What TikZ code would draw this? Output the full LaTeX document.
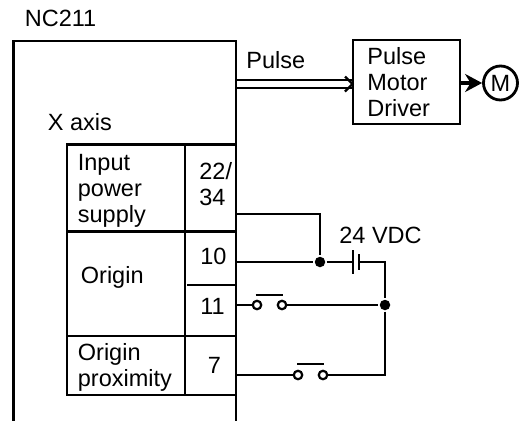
\documentclass[tikz,border=0pt]{standalone}
\usepackage{fontspec}
\setmainfont{Liberation Sans}
\usetikzlibrary{arrows.meta,positioning,calc}
\tikzset{
  >=Stealth,
  every picture/.append style={line width=2.8pt},
  every node/.append style={font=\fontsize{23.5}{26}\selectfont},
  label/.style={anchor=west, inner sep=0pt, align=left},
  drivebox/.style={draw, minimum width=107pt, minimum height=84pt, inner sep=0pt},
  motor/.style={draw, circle, minimum size=34pt, inner sep=0pt},
  contact/.style={draw, circle, fill=white, minimum size=8.5pt, inner sep=0pt, line width=2.2pt},
  junction/.style={circle, fill=black, minimum size=10.5pt, inner sep=0pt},
  wire/.style={line width=2.4pt}
}

\begin{document}
\begin{tikzpicture}[x=1pt,y=-1pt]
\useasboundingbox (0,0) rectangle (523,421);

% NC211 unit, open at the bottom
\draw (13.5,421) |- (236,41) -- (236,421);
\node[label] (nctitle) at (23.5,18) {NC211};
\node[label] (xaxis) at (46.5,122) {X axis};

% Terminal table
\draw (67,144.5) rectangle (236,395);
\draw (185,144.5) -- (185,395);
\draw (67,231.5) -- (236,231.5);
\draw (67,336) -- (236,336);
\draw (187,285) -- (236,285);
\node[label] (inputlbl) at (76.5,191) {Input\\power\\supply};
\node[label] (originlbl) at (79.5,277) {Origin};
\node[label] (proxlbl) at (76.5,367) {Origin\\proximity};
\node[label] (pinA) at (198,184) {22/\\34};
\node[label] (pinB) at (199,256) {10};
\node[label] (pinC) at (199,306) {11};
\node[label] (pinD) at (206.5,365) {7};

% Pulse output
\node[label] (pulselbl) at (245,60) {Pulse};
\node[drivebox] (driver) at (406.5,82) {};
\node[label] (driverlbl) at (366,82) {Pulse\\Motor\\Driver};
\node[motor] (motorM) at (500.5,83) {M};
\coordinate (outA) at (236,80);
\coordinate (outB) at (236,88);
\draw[wire] (outA) -- (outA -| driver.west);
\draw[wire] (outB) -- (outB -| driver.west);
\draw[wire] (345,76.5) -- (352.5,84) -- (345,91.5);
\draw[line width=3.6pt,-{Stealth[length=17pt,width=18pt]}] (driver.east |- motorM) -- (motorM.west);

% Field wiring
\coordinate (termA) at (236,214);
\coordinate (termB) at (236,262);
\coordinate (termC) at (236,305);
\coordinate (termD) at (236,375);
\node[junction] (jctA) at (320,262) {};
\node[junction] (jctB) at (385,305) {};
\coordinate (battA) at (353,262);
\coordinate (battB) at (359,262);
\coordinate (corner) at (385,262);
\coordinate (cornerB) at (385,375);
\node[contact] (swAa) at (257,305) {};
\node[contact] (swAb) at (282,305) {};
\node[contact] (swBa) at (298,375) {};
\node[contact] (swBb) at (323,375) {};
\draw[wire] (termA) -| (jctA);
\draw[wire] (termB) -- (jctA) -- (battA);
\draw[wire] (battB) -- (corner) -- (jctB) -- (cornerB) -- (swBb);
\draw[wire] (termC) -- (swAa);
\draw[wire] (swAb) -- (jctB);
\draw[wire] (termD) -- (swBa);
\draw[wire] (battA) +(0,-12) -- +(0,12);
\draw[wire] (battB) +(0,-8) -- +(0,8);
\draw[wire] (255.5,295) -- (283,295);
\draw[wire] (297,364) -- (324,364);
\node[label] (vdclbl) at (338,235) {24 VDC};
\end{tikzpicture}
\end{document}
